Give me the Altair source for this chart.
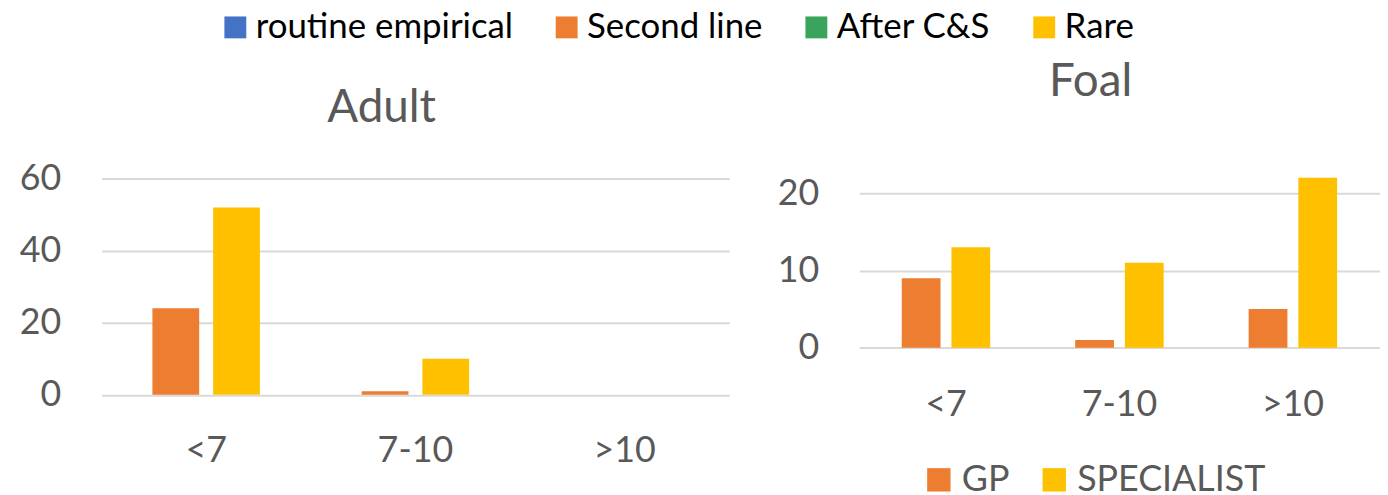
import altair as alt
import pandas as pd

categories = ["<7", "7-10", ">10"]
adult_series = ["routine empirical", "Second line", "After C&S", "Rare"]
adult_colors = ["#4472C4", "#ED7D31", "#3AA35C", "#FFC000"]
adult_second_line = [24, 1, 0]
adult_rare = [52, 10, 0]

foal_series = ["GP", "SPECIALIST"]
foal_colors = ["#ED7D31", "#FFC000"]
foal_gp = [9, 1, 5]
foal_specialist = [13, 11, 22]

adult_df = pd.DataFrame(
    [{"cat": c, "series": "Second line", "value": v} for c, v in zip(categories, adult_second_line)]
    + [{"cat": c, "series": "Rare", "value": v} for c, v in zip(categories, adult_rare)]
)
foal_df = pd.DataFrame(
    [{"cat": c, "series": "GP", "value": v} for c, v in zip(categories, foal_gp)]
    + [{"cat": c, "series": "SPECIALIST", "value": v} for c, v in zip(categories, foal_specialist)]
)

GREY = "#595959"
GRID = "#D9D9D9"
FONT = "Lato"

adult = (
    alt.Chart(adult_df)
    .mark_bar()
    .encode(
        x=alt.X(
            "cat:N",
            sort=categories,
            scale=alt.Scale(paddingInner=0, paddingOuter=0),
            axis=alt.Axis(
                title=None, labelAngle=0, labelFontSize=36, labelColor=GREY,
                labelFont=FONT, ticks=False, domain=False, labelPadding=39,
            ),
        ),
        xOffset=alt.XOffset(
            "series:N",
            sort=["Second line", "Rare"],
            scale=alt.Scale(domain=["Second line", "Rare"], paddingInner=0.2295, paddingOuter=0.8385),
        ),
        y=alt.Y(
            "value:Q",
            scale=alt.Scale(domain=[0, 66.68], nice=False),
            axis=alt.Axis(
                title=None, values=[0, 20, 40, 60], labelFontSize=36, labelColor=GREY,
                labelFont=FONT, ticks=False, domain=False, labelPadding=41,
                gridColor=GRID, gridWidth=2,
            ),
        ),
        color=alt.Color(
            "series:N",
            scale=alt.Scale(domain=adult_series, range=adult_colors),
            legend=alt.Legend(
                title=None, orient="none", legendX=117, legendY=-145.5,
                direction="horizontal", symbolType="square", symbolSize=484,
                symbolStrokeWidth=0, labelFontSize=35, labelColor="#000000",
                labelFont=FONT, labelOffset=3, columnPadding=36, padding=0,
                labelLimit=400,
            ),
        ),
    )
    .properties(
        width=631,
        height=241.5,
        title=alt.TitleParams(
            "Adult", fontSize=46, font=FONT, color=GREY, fontWeight="normal",
            anchor="middle", dx=-34, dy=190, offset=31.5, baseline="alphabetic",
        ),
    )
)

foal = (
    alt.Chart(foal_df)
    .mark_bar()
    .encode(
        x=alt.X(
            "cat:N",
            sort=categories,
            scale=alt.Scale(paddingInner=0, paddingOuter=0),
            axis=alt.Axis(
                title=None, labelAngle=0, labelFontSize=36, labelColor=GREY,
                labelFont=FONT, ticks=False, domain=False, labelPadding=40,
            ),
        ),
        xOffset=alt.XOffset(
            "series:N",
            sort=foal_series,
            scale=alt.Scale(domain=foal_series, paddingInner=0.22, paddingOuter=0.855),
        ),
        y=alt.Y(
            "value:Q",
            scale=alt.Scale(domain=[0, 25], nice=False),
            axis=alt.Axis(
                title=None, values=[0, 10, 20], labelFontSize=36, labelColor=GREY,
                labelFont=FONT, ticks=False, domain=False, labelPadding=40.6,
                gridColor=GRID, gridWidth=2,
            ),
        ),
        color=alt.Color(
            "series:N",
            scale=alt.Scale(domain=foal_series, range=foal_colors),
            legend=alt.Legend(
                title=None, orient="none", legendX=62, legendY=309,
                direction="horizontal", symbolType="square", symbolSize=552,
                symbolStrokeWidth=0, labelFontSize=36, labelColor=GREY,
                labelFont=FONT, labelOffset=5, columnPadding=27, padding=0,
                labelLimit=400,
            ),
        ),
    )
    .properties(
        width=523,
        height=194.2,
        title=alt.TitleParams(
            "Foal", fontSize=46, font=FONT, color=GREY, fontWeight="normal",
            anchor="middle", dx=-29, dy=44, offset=56.5, baseline="alphabetic",
        ),
    )
)

chart = (
    alt.hconcat(adult, foal, spacing=130.6, bounds="flush")
    .resolve_scale(color="independent", y="independent", x="independent", xOffset="independent")
    .resolve_legend(color="independent")
    .properties(padding={"left": 11, "top": 0, "right": 0, "bottom": 0})
    .configure(font=FONT)
    .configure_view(stroke=None)
)

chart.save("out.html", embed_options={"renderer": "svg", "actions": False})
